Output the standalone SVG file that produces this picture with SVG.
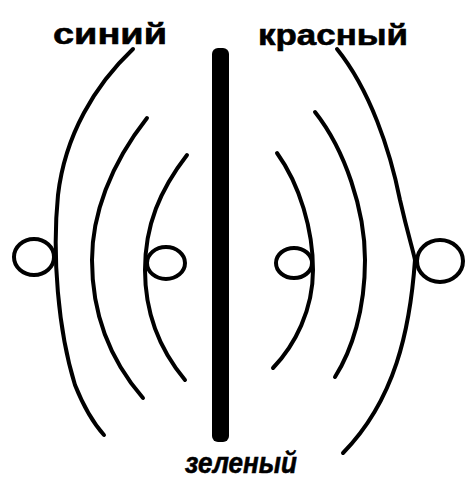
<svg xmlns="http://www.w3.org/2000/svg" width="466" height="480" viewBox="0 0 466 480">
<style>
.l{fill:none;stroke:#000;stroke-width:4;stroke-linecap:round;stroke-linejoin:round}
.t{font-family:"Liberation Sans","DejaVu Sans",sans-serif;font-weight:bold;fill:#000;stroke:#000;stroke-width:0.6}
</style>
<rect width="466" height="480" fill="#fff"/>
<g id="bar"><rect x="212" y="48" width="17" height="394" rx="6" fill="#000"/></g>
<g id="connectors">
<path class="l" d="M133,49 C95,85 65,135 58,195 C52,255 58,330 75,385 C85,410 95,425 104,435"/>
<path class="l" d="M147,118 C110,165 92,215 92,260 C92,315 110,360 143,398"/>
<path class="l" d="M187,155 C160,190 145,225 145,270 C145,315 160,350 185,380"/>
<path class="l" d="M337,49 C370,90 390,150 400,200 C408,235 413,250 415,260 C410,330 395,400 343,453"/>
<path class="l" d="M315,112 C345,150 365,210 365,260 C365,310 352,350 335,377"/>
<path class="l" d="M277,153 C300,185 313,230 313,270 C313,310 295,345 273,368"/>
</g>
<g id="loop-left-outer"><ellipse class="l" cx="34" cy="257" rx="20" ry="18"/></g>
<g id="loop-left-inner"><ellipse class="l" cx="166" cy="263" rx="19" ry="16"/></g>
<g id="loop-right-inner"><ellipse class="l" cx="294" cy="263" rx="18" ry="15"/></g>
<g id="loop-right-outer"><ellipse class="l" cx="440" cy="261" rx="23" ry="21"/></g>
<g id="label-blue"><text class="t" x="53" y="44" font-size="30" textLength="114" lengthAdjust="spacingAndGlyphs">синий</text></g>
<g id="label-red"><text class="t" x="258" y="45" font-size="30" textLength="150" lengthAdjust="spacingAndGlyphs">красный</text></g>
<g id="label-green"><text class="t" x="185" y="473" font-size="30" font-style="italic" textLength="112" lengthAdjust="spacingAndGlyphs">зеленый</text></g>
</svg>
